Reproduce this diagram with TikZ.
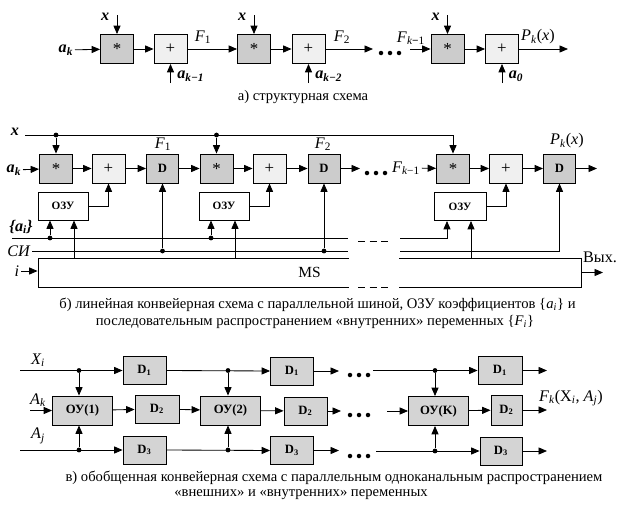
\documentclass[tikz,border=0pt]{standalone}
\usepackage{fontspec}
\setmainfont{Liberation Serif}
\usetikzlibrary{arrows.meta}
\newdimen\pxl \pxl=0.025cm
\newcommand{\bfit}[1]{\textbf{\textit{#1}}}
\newcommand{\sbs}[1]{\textsubscript{#1}}
\newcommand{\mulsign}{\raisebox{-0.55ex}{*}}
\definecolor{boxgray}{gray}{0.80}
\definecolor{boxlight}{gray}{0.94}
\definecolor{boxc}{gray}{0.83}
\tikzset{
  blk/.style={draw, inner sep=0pt, minimum height=29\pxl},
  mul/.style={blk, fill=boxgray, minimum width=33\pxl, font=\large},
  add/.style={blk, fill=boxlight, minimum width=33\pxl, font=\large},
  dreg/.style={blk, fill=boxgray, minimum width=32\pxl, font=\bfseries\small},
  ozu/.style={blk, fill=white, minimum width=50\pxl, minimum height=28\pxl, font=\bfseries\footnotesize},
  ou/.style={blk, fill=boxc, minimum width=60\pxl, font=\bfseries\small},
  dly/.style={blk, fill=boxc, minimum width=43\pxl, minimum height=28\pxl, font=\bfseries\small},
  sig/.style={-{Triangle[length=6pt,width=5pt]}},
  dot/.style={circle, fill, inner sep=0pt, minimum size=3.4pt},
  lbl/.style={inner sep=1pt, font=\fontsize{11.5}{13}\selectfont},
  captxt/.style={font=\fontsize{10.4}{12.5}\selectfont}
}

\begin{document}
\begin{tikzpicture}[x=0.025cm, y=-0.025cm, line width=0.6pt]
\useasboundingbox (0,0) rectangle (620,506);

\node[mul] (m1) at (117,49) {\mulsign};
\node[add] (s1) at (170.5,49) {+};
\node[mul] (m2) at (254,49) {\mulsign};
\node[add] (s2) at (308.5,49) {+};
\node[mul] (m3) at (447.5,49) {\mulsign};
\node[add] (s3) at (502,49) {+};

\node[lbl, anchor=east] (ak) at (75,50) {\bfit{a\sbs{k}}};
\draw[sig] (ak) -- (m1);
\draw[sig] (m1) -- (s1);
\draw[sig] (s1) -- (m2);
\draw[sig] (m2) -- (s2);
\coordinate (f2e) at (373,49);
\draw[sig] (s2) -- (f2e);
\coordinate (fka) at (410,49);
\draw[sig] (fka) -- (m3);
\draw[sig] (m3) -- (s3);
\coordinate (pka) at (568,49);
\draw[sig] (s3) -- (pka);
\node[lbl] (f1a) at (203,37) {\textit{F}\sbs{1}};
\node[lbl] (f2a) at (342,37) {\textit{F}\sbs{2}};
\node[lbl] (fk1a) at (411,38) {\textit{F}\sbs{\textit{k}\textbf{−}1}};
\node[lbl] (pk) at (538,37) {\textit{P\sbs{k}}(\textit{x})};
\foreach \t in {381,390,399} \fill (\t,53) circle (1.6pt);

\foreach \b/\q in {m1/x1,m2/x2,m3/x3} {
  \coordinate (\q) at (\b |- 0,15);
  \node[lbl, anchor=east] at ([xshift=-6\pxl]\q |- 0,17) {\bfit{x}};
  \draw[sig] (\q) -- (\b);
}
\foreach \b/\q/\t in {s1/c1/{k−1},s2/c2/{k−2},s3/c3/0} {
  \coordinate (\q) at (\b |- 0,83);
  \node[lbl, anchor=west] at ([xshift=5\pxl]\q |- 0,76) {\bfit{a\sbs{\t}}};
  \draw[sig] (\q) -- (\b);
}
\node[captxt] (capa) at (303,97) {а) структурная схема};

\node[mul] (b1) at (56,168.5) {\mulsign};
\node[add] (b2) at (108.5,168.5) {+};
\node[dreg] (b3) at (162.5,168.5) {D};
\node[mul] (b4) at (216.5,168.5) {\mulsign};
\node[add] (b5) at (269.5,168.5) {+};
\node[dreg] (b6) at (324,168.5) {D};
\node[mul] (b7) at (453,168.5) {\mulsign};
\node[add] (b8) at (506,168.5) {+};
\node[dreg] (b9) at (559.5,168.5) {D};
\node[ozu] (o1) at (63,206) {ОЗУ};
\node[ozu] (o2) at (224,206) {ОЗУ};
\node[ozu, minimum width=52\pxl] (o3) at (460,206.5) {ОЗУ};
\node[draw, minimum width=543\pxl, minimum height=29\pxl, font=\fontsize{11}{13}\selectfont] (ms) at (309.5,272.5) {MS};

\node[lbl] (xb) at (15,132) {\bfit{x}};
\coordinate (xb0) at (25,135);
\coordinate (xb1) at (453,135);
\draw[sig] (xb0) -- (xb1) -- (b7);
\node[dot] (xd1) at (56,135) {};
\node[dot] (xd2) at (216.5,135) {};
\draw[sig] (xd1) -- (b1);
\draw[sig] (xd2) -- (b4);

\node[lbl, anchor=east] (akb) at (23,170) {\bfit{a\sbs{k}}};
\draw[sig] (akb) -- (b1);
\draw[sig] (b1) -- (b2);
\draw[sig] (b2) -- (b3);
\draw[sig] (b3) -- (b4);
\draw[sig] (b4) -- (b5);
\draw[sig] (b5) -- (b6);
\coordinate (b6e) at (360,168.5);
\draw[sig] (b6) -- (b6e);
\foreach \t in {367,376,385} \fill (\t,173) circle (1.6pt);
\node[lbl] (fkb) at (406,168) {\textit{F}\sbs{\textit{k}−1}};
\draw[sig] (fkb) -- (b7);
\draw[sig] (b7) -- (b8);
\draw[sig] (b8) -- (b9);
\coordinate (b9e) at (597,168.5);
\draw[sig] (b9) -- (b9e);
\node[lbl] (f1b) at (163,144) {\textit{F}\sbs{1}};
\node[lbl] (f2b) at (323,144) {\textit{F}\sbs{2}};
\node[lbl] (pkb) at (567,141) {\textit{P\sbs{k}}(\textit{x})};

\draw[sig] (o1.east) -| (b2);
\draw[sig] (o2.east) -| (b5);
\draw[sig] (o3.east) -| (b8);

\node[lbl] (ai) at (21,227) {\bfit{\{a\sbs{i}\}}};
\coordinate (ai0) at (12,238);
\coordinate (ai1) at (348,238);
\coordinate (ai2) at (400,238);
\draw (ai0) -- (ai1);
\draw[sig] (ai2) -| ([xshift=-13\pxl]o3.south);
\node[lbl] (si) at (19,251) {\textit{СИ}};
\coordinate (si1) at (348,251);
\coordinate (si2) at (400,251);
\draw (si.east) -- (si1);
\draw[sig] (si2) -| (b9);
\foreach \o in {o1,o2} {
  \node[dot] (\o d) at ([xshift=-13\pxl]\o.south |- 0,238) {};
  \draw[sig] (\o d) -- ([xshift=-13\pxl]\o.south);
  \draw[sig] ([xshift=11\pxl]\o.south |- ms.north) -- ([xshift=11\pxl]\o.south);
}
\draw[sig] ([xshift=11\pxl]o3.south |- ms.north) -- ([xshift=11\pxl]o3.south);
\foreach \b in {b3,b6} {
  \node[dot] (\b d) at (\b |- 0,251) {};
  \draw[sig] (\b d) -- (\b);
}
\fill[white] (349,255) rectangle (399,290);
\draw[dash pattern=on 5pt off 3.2pt] (358,241) -- (388,241);
\draw[dash pattern=on 5pt off 3.2pt] (358,287) -- (388,287);
\node[lbl, anchor=east] (ib) at (21,271) {\textit{i}};
\draw[sig] (ib.east) -- (ib.east -| ms.west);
\node[lbl] (vyh) at (600,257) {Вых.};
\coordinate (vyh1) at (603,272.5);
\draw[sig] (ms.east) -- (vyh1);
\node[captxt] (capb1) at (317.5,305) {б) линейная конвейерная схема с параллельной шиной, ОЗУ коэффициентов \{\textit{a}\sbs{\textit{i}}\} и};
\node[captxt] (capb2) at (315,322) {последовательным распространением «внутренних» переменных \{\textit{F}\sbs{\textit{i}}\}};

\node[ou] (u1) at (82.5,410.5) {ОУ(1)};
\node[ou] (u2) at (230.5,410.5) {ОУ(2)};
\node[ou] (u3) at (438.5,411) {ОУ(K)};
\node[dly] (d1a) at (144.5,370.5) {D\sbs{1}};
\node[dly, minimum width=44\pxl] (d2a) at (157,409) {D\sbs{2}};
\node[dly] (d3a) at (144.5,450) {D\sbs{3}};
\node[dly] (d1b) at (292,371) {D\sbs{1}};
\node[dly] (d2b) at (305.5,411) {D\sbs{2}};
\node[dly] (d3b) at (292,450.5) {D\sbs{3}};
\node[dly, minimum width=44\pxl] (d1c) at (500,370.5) {D\sbs{1}};
\node[dly, minimum width=31\pxl, minimum height=30\pxl] (d2c) at (506.5,410) {D\sbs{2}};
\node[dly, minimum width=42\pxl] (d3c) at (501,451) {D\sbs{3}};

\node[lbl] (xi) at (38,360) {\textit{X\sbs{i}}};
\node[lbl] (akc) at (38,400) {\textit{A\sbs{k}}};
\node[lbl] (ajc) at (38,436) {\textit{A\sbs{j}}};
\coordinate (xi0) at (20,370.5);
\coordinate (ak0) at (30,410.5);
\coordinate (aj0) at (20,450);
\draw[sig] (xi0) -- (d1a);
\draw[sig] (ak0) -- (u1);
\draw[sig] (aj0) -- (d3a);
\node[dot] (t1) at (79,370.5) {};
\node[dot] (t3) at (79,450) {};
\draw[sig] (t1) -- (t1 |- u1.north);
\draw[sig] (t3) -- (t3 |- u1.south);
\draw[sig] (u1) -- (d2a);
\draw[sig] (d2a) -- (u2);
\draw[sig] (d1a.east) -- (d1b.west);
\draw[sig] (d3a.east) -- (d3b.west);
\node[dot] (t4) at (228,370.5) {};
\node[dot] (t6) at (228,450) {};
\draw[sig] (t4) -- (t4 |- u2.north);
\draw[sig] (t6) -- (t6 |- u2.south);
\draw[sig] (u2) -- (d2b);
\coordinate (e1) at (339,371);
\coordinate (e2) at (341,411);
\coordinate (e3) at (339,450.5);
\draw[sig] (d1b) -- (e1);
\draw[sig] (d2b) -- (e2);
\draw[sig] (d3b) -- (e3);
\foreach \t in {350,359,368} {
  \fill (\t,375) circle (1.6pt);
  \fill (\t,415) circle (1.6pt);
  \fill (\t,456) circle (1.6pt);
}
\coordinate (g1) at (373,370.5);
\coordinate (g2) at (387,411);
\coordinate (g3) at (376,451);
\draw[sig] (g1) -- (d1c);
\draw[sig] (g2) -- (u3);
\draw[sig] (g3) -- (d3c);
\node[dot] (t7) at (435,370.5) {};
\node[dot] (t9) at (435,451) {};
\draw[sig] (t7) -- (t7 |- u3.north);
\draw[sig] (t9) -- (t9 |- u3.south);
\draw[sig] (u3) -- (d2c);
\coordinate (h1) at (547,370.5);
\coordinate (h2) at (547,410);
\coordinate (h3) at (547,451);
\draw[sig] (d1c) -- (h1);
\draw[sig] (d2c) -- (h2);
\draw[sig] (d3c) -- (h3);
\node[lbl] (fkc) at (571,398) {\textit{F\sbs{k}}(X\sbs{\textit{i}}, \textit{A\sbs{j}})};
\node[captxt] (capc1) at (334,478) {в) обобщенная конвейерная схема с параллельным одноканальным распространением};
\node[captxt] (capc2) at (301,495) {«внешних» и «внутренних» переменных};
\end{tikzpicture}
\end{document}
